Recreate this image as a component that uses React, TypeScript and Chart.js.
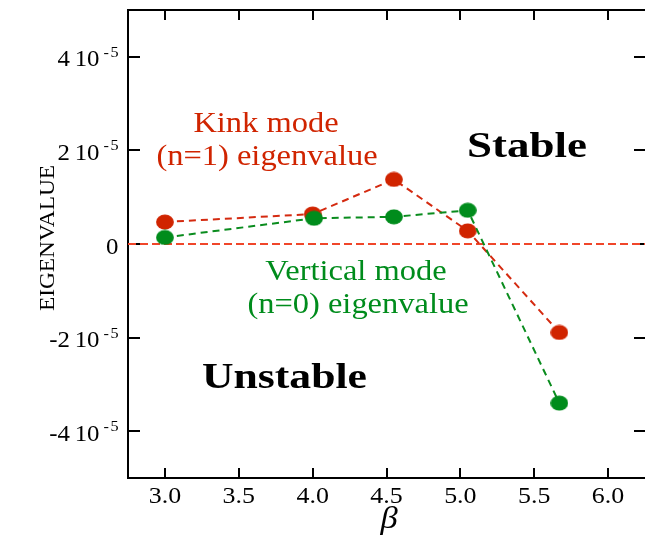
import React, { useEffect, useRef } from "react";
import { Chart, registerables } from "chart.js";

Chart.register(...registerables);

// ---- data ----
const betaKink = [3.0, 4.0, 4.55, 5.05, 5.67];
const kinkEigen = [0.47e-5, 0.64e-5, 1.38e-5, 0.28e-5, -1.89e-5];
const betaVertical = [3.0, 4.01, 4.55, 5.05, 5.67];
const verticalEigen = [0.14e-5, 0.55e-5, 0.58e-5, 0.72e-5, -3.4e-5];
const zeroLineBeta = [2.75, 6.25];
const zeroLineValue = [0, 0];

const xTicks = [3.0, 3.5, 4.0, 4.5, 5.0, 5.5, 6.0];
const xTickLabels = ["3.0", "3.5", "4.0", "4.5", "5.0", "5.5", "6.0"];
const yTicks = [4e-5, 2e-5, 0, -2e-5, -4e-5];
const yTickMantissas = ["4", "2", "0", "-2", "-4"];
const yTickExponent = "-5";

const RED = "#d02400";
const GREEN = "#008c1c";
const SERIF = "\"Liberation Serif\"";

function ellipseMarker(color: string): HTMLCanvasElement {
  const c = document.createElement("canvas");
  c.width = 18;
  c.height = 16;
  const g = c.getContext("2d")!;
  g.fillStyle = color;
  g.beginPath();
  g.ellipse(9, 8, 8.9, 7.5, 0, 0, Math.PI * 2);
  g.fill();
  return c;
}

function stretchedText(
  ctx: CanvasRenderingContext2D,
  text: string,
  x: number,
  y: number,
  font: string,
  color: string,
  sx: number,
  align: CanvasTextAlign = "center"
) {
  ctx.save();
  ctx.font = font;
  ctx.fillStyle = color;
  ctx.textAlign = align;
  ctx.textBaseline = "alphabetic";
  ctx.translate(x, y);
  ctx.scale(sx, 1);
  ctx.fillText(text, 0, 0);
  ctx.restore();
}

function fitText(
  ctx: CanvasRenderingContext2D,
  text: string,
  cx: number,
  y: number,
  font: string,
  color: string,
  width: number
) {
  ctx.save();
  ctx.font = font;
  const w = ctx.measureText(text).width;
  ctx.restore();
  stretchedText(ctx, text, cx, y, font, color, width / w, "center");
}

const framePlugin = {
  id: "frame",
  beforeDatasetsDraw(chart: any) {
    const { ctx, chartArea: a, scales } = chart;
    const xs = scales.x;
    const ys = scales.y;
    ctx.save();
    ctx.strokeStyle = "#000";
    ctx.lineWidth = 2;
    ctx.beginPath();
    ctx.moveTo(a.right + 4, a.top);
    ctx.lineTo(a.left, a.top);
    ctx.lineTo(a.left, a.bottom);
    ctx.lineTo(a.right + 4, a.bottom);
    ctx.stroke();
    ctx.lineWidth = 2;
    ctx.beginPath();
    xTicks.forEach((v) => {
      const px = Math.round(xs.getPixelForValue(v));
      ctx.moveTo(px, a.bottom);
      ctx.lineTo(px, a.bottom - 10);
      ctx.moveTo(px, a.top);
      ctx.lineTo(px, a.top + 10);
    });
    yTicks.forEach((v) => {
      const py = Math.round(ys.getPixelForValue(v));
      ctx.moveTo(a.left, py);
      ctx.lineTo(a.left + 12, py);
      ctx.moveTo(a.right, py);
      ctx.lineTo(a.right - 11, py);
    });
    ctx.stroke();
    ctx.restore();
  },
  afterDatasetsDraw(chart: any) {
    const { ctx, scales } = chart;
    const xs = scales.x;
    const ys = scales.y;

    // x tick labels
    xTicks.forEach((v, i) => {
      stretchedText(ctx, xTickLabels[i], xs.getPixelForValue(v), 503, `24px ${SERIF}`, "#000", 1.08);
    });

    // y tick labels with superscript exponent
    yTicks.forEach((v, i) => {
      const py = ys.getPixelForValue(v);
      const base = py + 9.5;
      const m = yTickMantissas[i];
      if (m === "0") {
        stretchedText(ctx, "0", 118.5, base, `23px ${SERIF}`, "#000", 1.08, "right");
        return;
      }
      stretchedText(ctx, m, 70, base, `23px ${SERIF}`, "#000", 1.08, "right");
      stretchedText(ctx, "10", 99.5, base, `23px ${SERIF}`, "#000", 1.08, "right");
      ctx.save();
      ctx.font = `15px ${SERIF}`;
      const w5 = ctx.measureText(yTickExponent.slice(1)).width * 1.08;
      ctx.restore();
      stretchedText(ctx, yTickExponent.slice(1), 118.5, base - 9.5, `15px ${SERIF}`, "#000", 1.08, "right");
      stretchedText(ctx, yTickExponent.slice(0, 1), 118.5 - w5 - 1.5, base - 9.5, `15px ${SERIF}`, "#000", 1.08, "right");
    });

    // axis titles
    ctx.save();
    ctx.translate(54, 238);
    ctx.rotate(-Math.PI / 2);
    ctx.font = `22px ${SERIF}`;
    const tw = ctx.measureText("EIGENVALUE").width;
    ctx.scale(146 / tw, 1);
    ctx.fillStyle = "#000";
    ctx.textAlign = "center";
    ctx.textBaseline = "alphabetic";
    ctx.fillText("EIGENVALUE", 0, 0);
    ctx.restore();

    stretchedText(ctx, "β", 389, 528, `italic 32px ${SERIF}`, "#000", 1.08);

    // annotations
    stretchedText(ctx, "Kink mode", 266, 132, `29px ${SERIF}`, RED, 1.12);
    stretchedText(ctx, "(n=1) eigenvalue", 267, 165, `29px ${SERIF}`, RED, 1.12);
    stretchedText(ctx, "Vertical mode", 356, 280, `29px ${SERIF}`, GREEN, 1.12);
    stretchedText(ctx, "(n=0) eigenvalue", 358, 313, `29px ${SERIF}`, GREEN, 1.12);
    fitText(ctx, "Stable", 527, 157, `bold 35px ${SERIF}`, "#000", 120);
    fitText(ctx, "Unstable", 284.5, 388, `bold 35px ${SERIF}`, "#000", 165);
  },
};

export default function App() {
  const ref = useRef<HTMLCanvasElement | null>(null);

  useEffect(() => {
    if (!ref.current) return;
    let chart: Chart | null = null;
    let cancelled = false;
    const redMarker = ellipseMarker(RED);
    const greenMarker = ellipseMarker(GREEN);

    const build = () => {
      if (cancelled || !ref.current) return;
      chart = new Chart(ref.current, {
        type: "line",
        data: {
          datasets: [
            {
              label: "Vertical mode (n=0) eigenvalue",
              data: betaVertical.map((b, i) => ({ x: b, y: verticalEigen[i] })),
              borderColor: "#0a8c1e",
              borderWidth: 2,
              borderDash: [7, 5],
              pointStyle: greenMarker as any,
              pointRadius: 8,
              pointHoverRadius: 8,
              fill: false,
              tension: 0,
              order: 1,
            },
            {
              label: "Kink mode (n=1) eigenvalue",
              data: betaKink.map((b, i) => ({ x: b, y: kinkEigen[i] })),
              borderColor: "#d42a10",
              borderWidth: 2,
              borderDash: [7, 5],
              pointStyle: redMarker as any,
              pointRadius: 8,
              pointHoverRadius: 8,
              fill: false,
              tension: 0,
              order: 2,
            },
            {
              label: "zero",
              data: zeroLineBeta.map((b, i) => ({ x: b, y: zeroLineValue[i] })),
              borderColor: "#f0462a",
              borderWidth: 1.8,
              borderDash: [8, 4],
              pointRadius: 0,
              fill: false,
              order: 3,
            },
          ],
        },
        options: {
          responsive: false,
          animation: false,
          devicePixelRatio: 1,
          layout: { autoPadding: false, padding: { left: 128, right: 0, top: 10, bottom: 58 } },
          scales: {
            x: { type: "linear", min: 2.75, max: 6.25, display: false },
            y: { type: "linear", min: -5e-5, max: 5e-5, display: false },
          },
          plugins: {
            legend: { display: false },
            tooltip: { enabled: false },
          },
          events: [],
        },
        plugins: [framePlugin],
      });
    };

    const fonts: any = (document as any).fonts;
    if (fonts && fonts.load) {
      Promise.all([
        fonts.load(`24px ${SERIF}`),
        fonts.load(`bold 35px ${SERIF}`),
        fonts.load(`italic 32px ${SERIF}`),
      ])
        .catch(() => null)
        .then(build);
    } else {
      build();
    }
    return () => {
      cancelled = true;
      if (chart) chart.destroy();
    };
  }, []);

  return (
    <div style={{ position: "fixed", left: 0, top: 0, width: 645, height: 536, background: "#fff" }}>
      <canvas ref={ref} width={645} height={536} style={{ display: "block" }} />
    </div>
  );
}
